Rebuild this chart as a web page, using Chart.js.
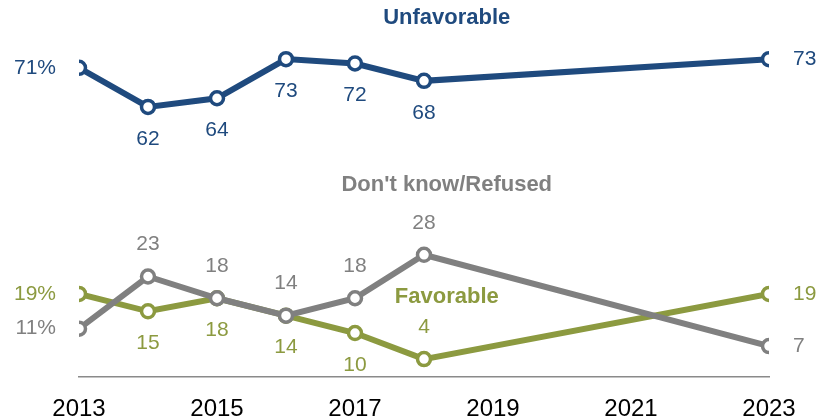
<!DOCTYPE html>
<html>
<head>
<meta charset="utf-8">
<script src="https://cdn.jsdelivr.net/npm/chart.js@4"></script>
<style>
  html, body { margin: 0; padding: 0; background: #fff; }
  #wrap { width: 830px; height: 419px; }
</style>
</head>
<body>
<div id="wrap"><canvas id="trendChart"></canvas></div>
<script>
"use strict";

const years = [2013, 2014, 2015, 2016, 2017, 2018, 2023];
const unfavorable = [71, 62, 64, 73, 72, 68, 73];
const dontKnow = [11, 23, 18, 14, 18, 28, 7];
const favorable = [19, 15, 18, 14, 10, 4, 19];
const xTicks = [2013, 2015, 2017, 2019, 2021, 2023];

const BLUE = "#1f4a7e";
const GRAY = "#808080";
const OLIVE = "#8c9a40";

// where each value label sits relative to its point
const unfavPlace = ["left", "below", "below", "below", "below", "below", "right"];
const dkPlace = ["left", "above", "above", "above", "above", "above", "right"];
const favPlace = ["left", "below", "below", "below", "below", "above", "right"];

// series names, in data units
const seriesNames = [
	{ text: "Unfavorable", color: BLUE, x: 2018.33, y: 82.4 },
	{ text: "Don't know/Refused", color: GRAY, x: 2018.33, y: 44.0 },
	{ text: "Favorable", color: OLIVE, x: 2018.33, y: 18.3 }
];

const placements = [unfavPlace, dkPlace, favPlace];

const toPoints = vals => vals.map((v, i) => ({ x: years[i], y: v }));

function lineSet(label, vals, color){
	return {
		label: label,
		data: toPoints(vals),
		borderColor: color,
		backgroundColor: "#fff",
		borderWidth: 6,
		pointRadius: 6.5,
		pointBorderWidth: 3.5,
		pointBackgroundColor: "#fff",
		pointBorderColor: color,
		tension: 0
	};
}

const labelPlugin = {
	id: "valueLabels",
	afterDatasetsDraw(chart){
		const ctx = chart.ctx;
		ctx.save();
		ctx.font = "21px 'Liberation Sans', Arial, sans-serif";
		chart.data.datasets.forEach((ds, di) => {
			const meta = chart.getDatasetMeta(di);
			meta.data.forEach((pt, i) => {
				const v = ds.data[i].y;
				const place = placements[di][i];
				let txt = String(v);
				if (i === 0) txt += "%";
				ctx.fillStyle = ds.borderColor;
				ctx.textBaseline = "middle";
				let x = pt.x, y = pt.y;
				if (place === "left"){ ctx.textAlign = "right"; x -= 23; }
				else if (place === "right"){ ctx.textAlign = "left"; x += 24; }
				else if (place === "above"){ ctx.textAlign = "center"; y -= 32; }
				else { ctx.textAlign = "center"; y += 32; }
				ctx.fillText(txt, x, y);
			});
		});
		ctx.font = "bold 22px 'Liberation Sans', Arial, sans-serif";
		ctx.textAlign = "center";
		ctx.textBaseline = "middle";
		seriesNames.forEach(s => {
			ctx.fillStyle = s.color;
			ctx.fillText(s.text, chart.scales.x.getPixelForValue(s.x), chart.scales.y.getPixelForValue(s.y));
		});
		ctx.restore();
	}
};

const ctx = document.querySelector("#trendChart").getContext("2d");
new Chart(ctx, {
	type: "line",
	data: {
		datasets: [
			lineSet("Unfavorable", unfavorable, BLUE),
			lineSet("Don't know/Refused", dontKnow, GRAY),
			lineSet("Favorable", favorable, OLIVE)
		]
	},
	options: {
		responsive: true,
		maintainAspectRatio: false,
		animation: false,
		layout: { padding: { left: 79, right: 61, top: 8, bottom: 0 } },
		plugins: { legend: { display: false }, tooltip: { enabled: false } },
		scales: {
			x: {
				type: "linear",
				min: 2013,
				max: 2023,
				afterBuildTicks: axis => { axis.ticks = xTicks.map(v => ({ value: v })); },
				afterFit: axis => { axis.height = 42.5; },
				grid: { display: false, drawTicks: false },
				border: { display: true, color: "#8a8a8a", width: 1.5 },
				ticks: {
					color: "#000",
					padding: 21,
					font: { family: "'Liberation Sans', Arial, sans-serif", size: 24, lineHeight: 1 },
					callback: v => String(v),
					maxRotation: 0
				}
			},
			y: {
				display: false,
				min: 0,
				max: 84.3
			}
		}
	},
	plugins: [labelPlugin]
});
</script>
</body>
</html>
